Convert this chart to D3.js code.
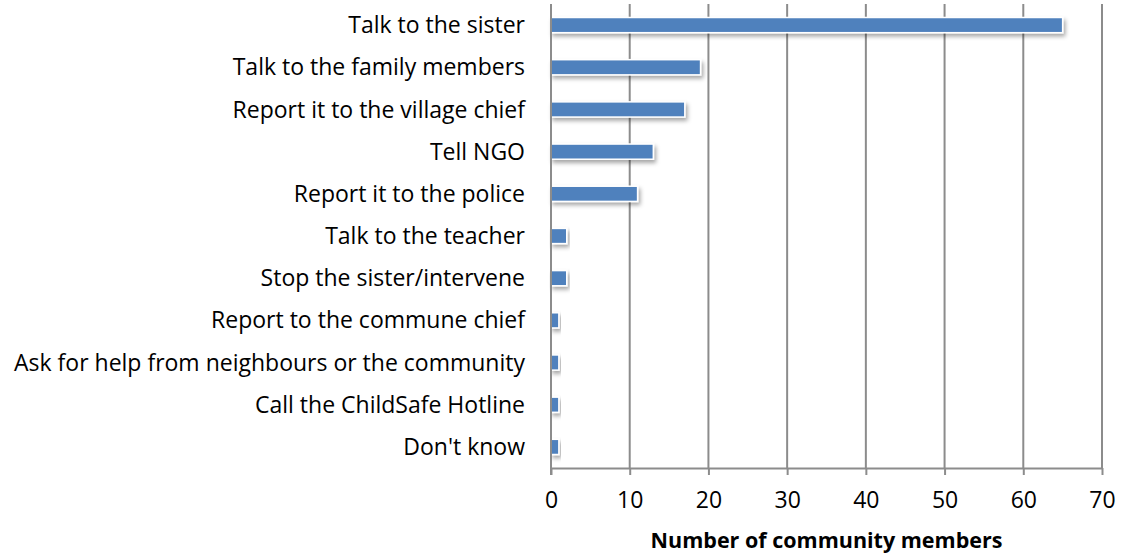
<!DOCTYPE html>
<html>
<head>
<meta charset="utf-8">
<script src="https://cdn.jsdelivr.net/npm/d3@7"></script>
<style>
  html, body { margin: 0; padding: 0; background: #fff; }
  svg { display: block; }
  text { font-family: "Open Sans", Lato, sans-serif; fill: #000; }
</style>
</head>
<body>
<svg id="chart" width="1122" height="554"></svg>
<script>
// Responses and counts, top to bottom
const categories = [
  "Talk to the sister",
  "Talk to the family members",
  "Report it to the village chief",
  "Tell NGO",
  "Report it to the police",
  "Talk to the teacher",
  "Stop the sister/intervene",
  "Report to the commune chief",
  "Ask for help from neighbours or the community",
  "Call the ChildSafe Hotline",
  "Don't know"
];
const counts = [65, 19, 17, 13, 11, 2, 2, 1, 1, 1, 1];
const xTicks = [0, 10, 20, 30, 40, 50, 60, 70];
const xTitle = "Number of community members";

const svg = d3.select("#chart");
const margin = { top: 4, left: 551 };
const innerW = 1102 - margin.left;
const innerH = 468 - margin.top;
const labelFont = 23;

const defs = svg.append("defs");
const f = defs.append("filter").attr("id", "shadow")
  .attr("x", "-10%").attr("y", "-40%").attr("width", "130%").attr("height", "220%");
f.append("feDropShadow").attr("dx", 2).attr("dy", 3).attr("stdDeviation", 2)
  .attr("flood-color", "#000").attr("flood-opacity", 0.35);

const g = svg.append("g").attr("transform", `translate(${margin.left},${margin.top})`);

const x = d3.scaleLinear().domain([0, 70]).range([0, innerW]);
const y = d3.scaleBand().domain(categories).range([0, innerH]).paddingInner(0.64).paddingOuter(0.32);

// vertical gridlines
g.selectAll(".grid").data(xTicks).join("line")
  .attr("x1", d => x(d)).attr("x2", d => x(d))
  .attr("y1", 0).attr("y2", innerH)
  .attr("stroke", "#8c8c8c").attr("stroke-width", 2);

// bottom axis
const xAxis = g.append("g").attr("transform", `translate(0,${innerH})`)
  .call(d3.axisBottom(x).tickValues(xTicks).tickSize(7).tickPadding(17).tickSizeOuter(0));
xAxis.select(".domain").attr("stroke", "#8c8c8c").attr("stroke-width", 2);
xAxis.selectAll(".tick line").attr("stroke", "#8c8c8c").attr("stroke-width", 2);
xAxis.selectAll(".tick text").attr("font-size", labelFont)
  .attr("font-family", "'Open Sans', sans-serif").attr("fill", "#000");

// bars
g.selectAll(".bar").data(categories).join("rect")
  .attr("x", 0)
  .attr("y", d => y(d))
  .attr("width", (d, i) => x(counts[i]))
  .attr("height", y.bandwidth())
  .attr("fill", "#4F81BD")
  .attr("stroke", "#fff")
  .attr("stroke-width", 1.5)
  .attr("filter", "url(#shadow)");

// left axis line
g.append("line").attr("x1", 0).attr("x2", 0).attr("y1", 0).attr("y2", innerH + 7)
  .attr("stroke", "#8c8c8c").attr("stroke-width", 2);

// category labels
g.selectAll(".cat").data(categories).join("text")
  .attr("x", -26)
  .attr("y", d => y(d) + y.bandwidth() / 2)
  .attr("dy", "0.35em")
  .attr("text-anchor", "end")
  .attr("font-size", labelFont)
  .text(d => d);

// axis title
svg.append("text")
  .attr("x", margin.left + innerW / 2)
  .attr("y", 548)
  .attr("text-anchor", "middle")
  .attr("font-size", 21.5)
  .attr("font-weight", "bold")
  .text(xTitle);
</script>
</body>
</html>
